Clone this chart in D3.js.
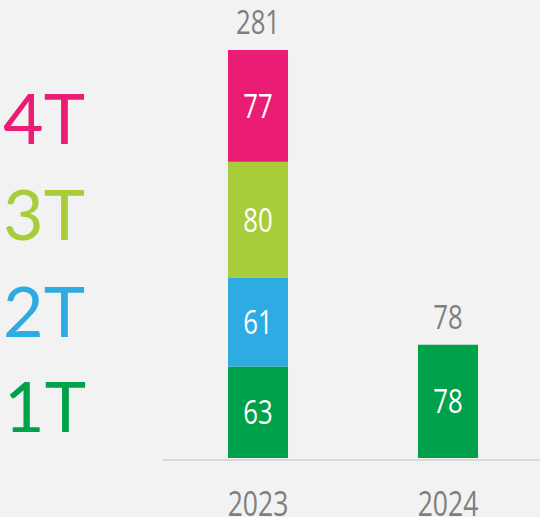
<!DOCTYPE html>
<html>
<head>
<meta charset="utf-8">
<script src="https://cdn.jsdelivr.net/npm/d3@7"></script>
<style>
  body { margin: 0; background: #f2f2f2; }
  svg { display: block; }
  text { font-family: "Open Sans", "DejaVu Sans", sans-serif; }
</style>
</head>
<body>
<svg class="chart"></svg>
<script>
// data
var years = ['2023', '2024']
var quarters = ['1T', '2T', '3T', '4T']
var q1 = [63, 78]
var q2 = [61, 0]
var q3 = [80, 0]
var q4 = [77, 0]
var colors = ['#00a14b', '#2eabe2', '#a9cc3a', '#ea1c73']

var width = 540, height = 517;
var baseline = 458, top_y = 50;

var svg = d3.select('.chart')
    .attr('width', width)
    .attr('height', height)

svg.append('rect')
    .attr('width', width)
    .attr('height', height)
    .attr('fill', '#f2f2f2')

var table = years.map(function(y, i) {
  return { year: y, '1T': q1[i], '2T': q2[i], '3T': q3[i], '4T': q4[i] };
});
table.forEach(function(d) { d.total = d3.sum(quarters, function(q) { return d[q]; }); });

var stack = d3.stack().keys(quarters)(table);

var x = d3.scaleBand()
    .domain(years)
    .range([163, 543])
    .paddingInner(0.684)
    .paddingOuter(0.342);

var y = d3.scaleLinear()
    .domain([0, d3.max(table, function(d) { return d.total; })])
    .range([baseline, top_y]);

var color = d3.scaleOrdinal().domain(quarters).range(colors);

// axis line
svg.append('line')
    .attr('x1', 163).attr('x2', width)
    .attr('y1', baseline + 2).attr('y2', baseline + 2)
    .attr('stroke', '#d9d9d9')
    .attr('stroke-width', 2)

var layer = svg.selectAll('.layer')
    .data(stack)
    .enter().append('g')
    .attr('fill', function(d) { return color(d.key); })

layer.selectAll('rect')
    .data(function(d) { return d.filter(function(p) { return p[1] > p[0]; }); })
    .enter().append('rect')
    .attr('x', function(d) { return x(d.data.year); })
    .attr('y', function(d) { return y(d[1]); })
    .attr('width', x.bandwidth())
    .attr('height', function(d) { return y(d[0]) - y(d[1]); })

// condensed label helper
function label(sel, size) {
  sel.attr('font-size', size)
     .attr('text-anchor', 'middle')
     .attr('transform', 'scale(0.78,1)')
}

stack.forEach(function(s) {
  s.filter(function(p) { return p[1] > p[0]; }).forEach(function(p) {
    var g = svg.append('g')
        .attr('transform', `translate(${x(p.data.year) + x.bandwidth() / 2}, ${(y(p[0]) + y(p[1])) / 2 + 12})`)
    g.append('text')
        .call(label, 33)
        .attr('fill', '#fff')
        .text(p[1] - p[0])
  });
});

// totals
table.forEach(function(d) {
  var g = svg.append('g')
      .attr('transform', `translate(${x(d.year) + x.bandwidth() / 2}, ${y(d.total) - 16})`)
  g.append('text')
      .call(label, 33)
      .attr('fill', '#7f7f7f')
      .text(d.total)
});

// year labels
years.forEach(function(yr) {
  var g = svg.append('g')
      .attr('transform', `translate(${x(yr) + x.bandwidth() / 2}, 516)`)
  g.append('text')
      .call(label, 34)
      .attr('fill', '#7f7f7f')
      .text(yr)
});

// quarter legend on the left
var legendY = [407, 311.5, 215, 118.5];
svg.selectAll('.qlabel')
    .data(quarters)
    .enter().append('text')
    .attr('class', 'qlabel')
    .attr('x', function(d, i) { return i === 0 ? 45 : 44; })
    .attr('y', function(d, i) { return legendY[i] + 25; })
    .attr('text-anchor', 'middle')
    .attr('font-size', 70)
    .style('font-family', 'Lato, "Open Sans", sans-serif')
    .style('font-weight', 400)
    .attr('fill', function(d) { return color(d); })
    .text(function(d) { return d; })
</script>
</body>
</html>
